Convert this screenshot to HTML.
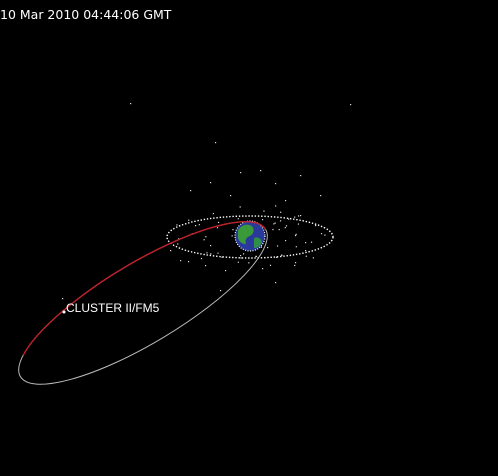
<!DOCTYPE html>
<html><head><meta charset="utf-8"><style>
html,body{margin:0;padding:0;background:#000;width:498px;height:476px;overflow:hidden}
svg{display:block}
</style></head><body>
<svg width="498" height="476" viewBox="0 0 498 476">
<rect width="498" height="476" fill="#000"/>
<text x="0" y="19" fill="#fff" font-family="DejaVu Sans, Liberation Sans, sans-serif" font-size="12.5">10 Mar 2010 04:44:06 GMT</text>
<g id="stars"></g>
<ellipse cx="250" cy="237" rx="83" ry="21" fill="none" stroke="#fff" stroke-width="1.4" stroke-dasharray="1.4 1.8"/>
<g>
<circle cx="250" cy="236" r="15" fill="#2a3a9a"/>
<path d="M238,230 q6,-8 14,-4 q4,6 -2,10 q-6,2 -4,8 q-6,0 -8,-6z" fill="#3a9a3a"/>
<path d="M254,238 q6,-2 8,4 q-2,6 -8,6z" fill="#2f8f4a"/>
<circle cx="250" cy="236" r="15" fill="none" stroke="#fff" stroke-width="1.2" stroke-dasharray="1 1.5"/>
</g>
<ellipse cx="143" cy="303" rx="143" ry="40" transform="rotate(-31 143 303)" fill="none" stroke="#bbb" stroke-width="1"/>
<path d="M23.2,355.2 A143,40 -31 0 1 265.6,229.3" fill="none" stroke="#c0202a" stroke-width="1.4"/>
<circle cx="64" cy="312" r="1.5" fill="#fff"/>
<text x="66" y="312" fill="#fff" font-family="Liberation Sans, sans-serif" font-size="12">CLUSTER II/FM5</text>
</svg>
<script>
var g=document.getElementById('stars');
var pts=[[130,103],[350,104],[215,142],[240,172],[260,170],[300,175],[210,182],[275,183],[190,190],[320,195],[230,195],[285,200],[205,265],[225,270],[275,282],[305,250],[295,262],[180,260],[220,290],[62,298],[262,268],[240,255],[170,250],[300,215],[315,225],[285,240],[295,235],[305,242],[195,225],[210,245]];
var s=12345;function r(){s=(s*1103515245+12345)%2147483648;return s/2147483648;}
for(var i=0;i<60;i++){pts.push([175+r()*150,205+r()*60]);}
pts.forEach(function(p){var c=document.createElementNS('http://www.w3.org/2000/svg','rect');
c.setAttribute('x',p[0]);c.setAttribute('y',p[1]);c.setAttribute('width',1.2);c.setAttribute('height',1.2);c.setAttribute('fill','#ddd');


g.appendChild(c);});
</script>
</body></html>
